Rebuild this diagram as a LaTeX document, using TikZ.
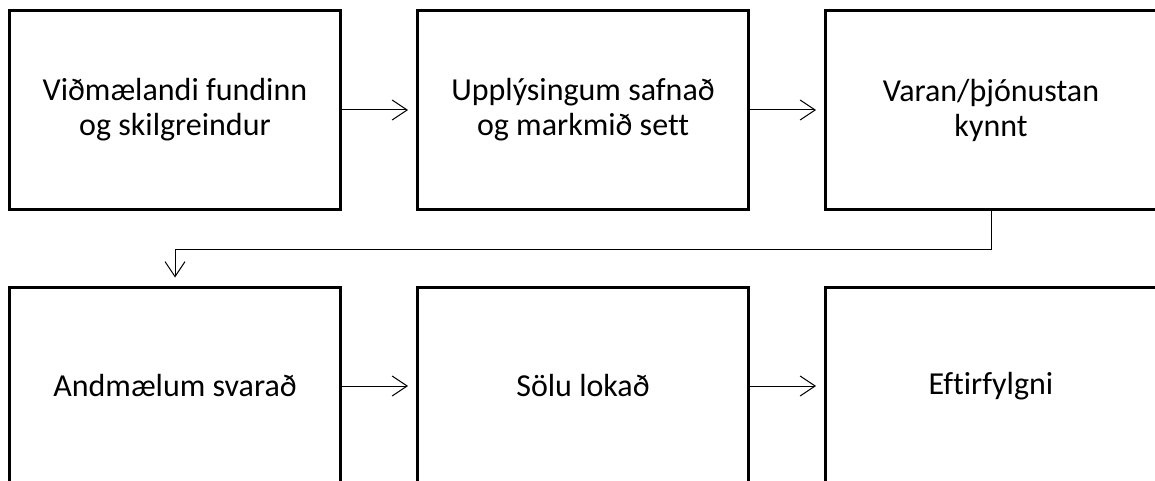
\documentclass[tikz,border=0pt]{standalone}
\usepackage{fontspec}
\setmainfont[Ligatures=NoCommon]{Carlito}
\usetikzlibrary{arrows.meta}
\begin{document}
\begin{tikzpicture}[x=1pt,y=-1pt,
  stepbox/.style={draw=black, line width=3pt, minimum width=331pt, minimum height=198pt,
    inner sep=0pt, align=center, font=\fontsize{32}{35}\selectfont},
  flow/.style={draw=black, line width=1pt, -{Straight Barb[length=15pt,width=20pt,line width=1pt]}, shorten >=8pt}]
  \useasboundingbox (0,0) rectangle (1155,481);
  % top row
  \node[stepbox] (s1) at (175,110) {Viðmælandi fundinn\\og skilgreindur};
  \node[stepbox] (s2) at (583,110) {Upplýsingum safnað\\og markmið sett};
  \node[stepbox] (s3) at (991,110) {Varan/þjónustan\\kynnt};
  % bottom row
  \node[stepbox] (s4) at (175,386) {Andmælum svarað};
  \node[stepbox] (s5) at (583,386) {Sölu lokað};
  \node[stepbox] (s6) at (991,386) {Eftirfylgni};
  % connectors
  \draw[flow] (s1.east) -- (s2.west);
  \draw[flow] (s2.east) -- (s3.west);
  \draw[flow] (s3.south) -- ++(0,39) -| (s4.north);
  \draw[flow] (s4.east) -- (s5.west);
  \draw[flow] (s5.east) -- (s6.west);
\end{tikzpicture}
\end{document}
